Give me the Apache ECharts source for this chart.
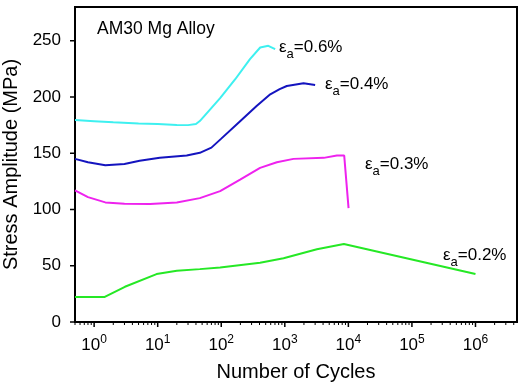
<!DOCTYPE html>
<html><head><meta charset="utf-8">
<script src="https://cdn.jsdelivr.net/npm/echarts@6/dist/echarts.min.js"></script>
<style>html,body{margin:0;padding:0;background:#fff}#c{width:525px;height:386px}</style>
</head><body><div id="c"></div>
<script>
const FONT = 'Liberation Sans, Arial, Helvetica, sans-serif';

// Strain amplitude 0.6%
const cycles06 = [0.5, 1, 2, 5, 10, 20, 30, 40, 46, 67, 96, 166, 283, 410, 550, 705];
const stress06 = [179.5, 178.5, 177.5, 176.5, 176, 175.2, 175, 176, 178.6, 189, 199, 215.8, 233.7, 244, 245.5, 242.6];
// Strain amplitude 0.4%
const cycles04 = [0.5, 0.8, 1.5, 3, 5.2, 10.8, 28.6, 46, 70, 100, 198, 360, 590, 830, 1075, 1970, 3000];
const stress04 = [145, 142, 139.3, 140.5, 143.3, 145.9, 148, 150.4, 155, 163, 178.5, 192, 202.4, 207, 209.8, 212.2, 210.7];
// Strain amplitude 0.3%
const cycles03 = [0.5, 0.8, 1.5, 3, 7.6, 20, 46, 96, 198, 408, 750, 1370, 4100, 6600, 8600, 10070];
const stress03 = [117, 111, 106.3, 105.1, 104.8, 106.3, 110.1, 116.3, 126.5, 137, 142, 145, 145.9, 148, 148, 101.2];
// Strain amplitude 0.2%
const cycles02 = [0.5, 1.47, 3.05, 9.6, 20, 46, 96, 408, 955, 3200, 8500, 1000000];
const stress02 = [22.3, 22.3, 31.3, 42.6, 45.5, 47, 48.5, 52.7, 56.6, 64.6, 69.4, 42.6];

const strainLabels = ['0.6', '0.4', '0.3', '0.2'];
const yTicks = [0, 50, 100, 150, 200, 250];
const xDecades = [0, 1, 2, 3, 4, 5, 6];
const title = 'AM30 Mg Alloy';

const colors = ['#3ef0f0', '#1414bf', '#ee22ee', '#25e825'];
const allCycles = [cycles06, cycles04, cycles03, cycles02];
const allStress = [stress06, stress04, stress03, stress02];

function pairs(xs, ys) { return xs.map((x, i) => [x, ys[i]]); }

const chart = echarts.init(document.getElementById('c'), null, {renderer: 'canvas'});

const labelPos = [[279, 51.7], [325, 89], [365, 169], [443, 260]];
const epsRich = {
  e: {fontSize: 17, fontFamily: FONT, color: '#000', lineHeight: 22, verticalAlign: 'top'},
  s: {fontSize: 13, fontFamily: FONT, color: '#000', lineHeight: 22, verticalAlign: 'bottom'},
  t: {fontSize: 17, fontFamily: FONT, color: '#000', lineHeight: 22, verticalAlign: 'top'}
};

const graphics = [{
  type: 'text', id: 'title', left: 97, top: 20,
  style: {text: title, font: '17.5px ' + FONT, fill: '#000'}
}];
strainLabels.forEach((s, i) => {
  graphics.push({
    type: 'text', id: 'lab' + i, x: labelPos[i][0], y: labelPos[i][1] - 13,
    style: {text: '{e|ε}{s|a}{t|=' + s + '%}', rich: epsRich, verticalAlign: 'top'}
  });
});

chart.setOption({
  animation: false,
  backgroundColor: '#fff',
  grid: {left: 75, right: 8, top: 7, bottom: 64, show: true, borderColor: '#000', borderWidth: 2, outerBoundsMode: 'none'},
  xAxis: {
    type: 'log', logBase: 10, min: 0.5, max: 4.5e6, splitNumber: 7,
    name: 'Number of Cycles', nameLocation: 'middle', nameGap: 40,
    nameTextStyle: {fontSize: 20, fontFamily: FONT, color: '#000'},
    axisLine: {lineStyle: {color: '#000', width: 2}},
    axisTick: {show: false},
    splitLine: {show: false},
    axisLabel: {
      margin: 12, color: '#000',
      formatter: function (v) {
        const k = Math.log10(v);
        if (Math.abs(k - Math.round(k)) > 1e-6) return '';
        return '{b|10}{s|' + Math.round(k) + '}';
      },
      rich: {
        b: {fontSize: 17, fontFamily: FONT, color: '#000', lineHeight: 20, verticalAlign: 'bottom'},
        s: {fontSize: 12, fontFamily: FONT, color: '#000', lineHeight: 20, verticalAlign: 'top'}
      }
    }
  },
  yAxis: {
    type: 'value', min: 0, max: 280, interval: 50,
    name: 'Stress Amplitude (MPa)', nameLocation: 'middle', nameGap: 50,
    nameTextStyle: {fontSize: 20, fontFamily: FONT, color: '#000'},
    axisLine: {show: true, lineStyle: {color: '#000', width: 2}},
    axisTick: {show: false},
    splitLine: {show: false},
    axisLabel: {
      margin: 14, color: '#000', fontSize: 17, fontFamily: FONT,
      formatter: function (v) { return yTicks.indexOf(v) >= 0 ? String(v) : ''; }
    }
  },
  series: allCycles.map((xs, i) => ({
    type: 'line', data: pairs(xs, allStress[i]), showSymbol: false, symbol: 'none',
    lineStyle: {color: colors[i], width: 2}, itemStyle: {color: colors[i]}, z: 3
  })),
  graphic: graphics
});

// Axis ticks drawn through the axes' own scales
const tickG = [];
const y0 = chart.convertToPixel({yAxisIndex: 0}, 0);
const xl = chart.convertToPixel({xAxisIndex: 0}, 0.5);
const xr = chart.convertToPixel({xAxisIndex: 0}, 4.5e6);
xDecades.forEach(k => {
  const px = chart.convertToPixel({xAxisIndex: 0}, Math.pow(10, k));
  tickG.push({type: 'line', silent: true, shape: {x1: px, y1: y0, x2: px, y2: y0 + 5}, style: {stroke: '#000', lineWidth: 1.5}});
});
for (let k = -1; k <= 6; k++) {
  for (let m = 2; m <= 9; m++) {
    const v = m * Math.pow(10, k);
    const px = chart.convertToPixel({xAxisIndex: 0}, v);
    if (px < xl - 0.5 || px > xr + 0.5) continue;
    tickG.push({type: 'line', silent: true, shape: {x1: px, y1: y0, x2: px, y2: y0 + 3}, style: {stroke: '#000', lineWidth: 1}});
  }
}
yTicks.forEach(v => {
  const py = chart.convertToPixel({yAxisIndex: 0}, v);
  tickG.push({type: 'line', silent: true, shape: {x1: xl - 5, y1: py, x2: xl, y2: py}, style: {stroke: '#000', lineWidth: 1.5}});
});
chart.setOption({graphic: graphics.concat(tickG.map((g, i) => Object.assign({id: 'tk' + i}, g)))});
</script></body></html>
